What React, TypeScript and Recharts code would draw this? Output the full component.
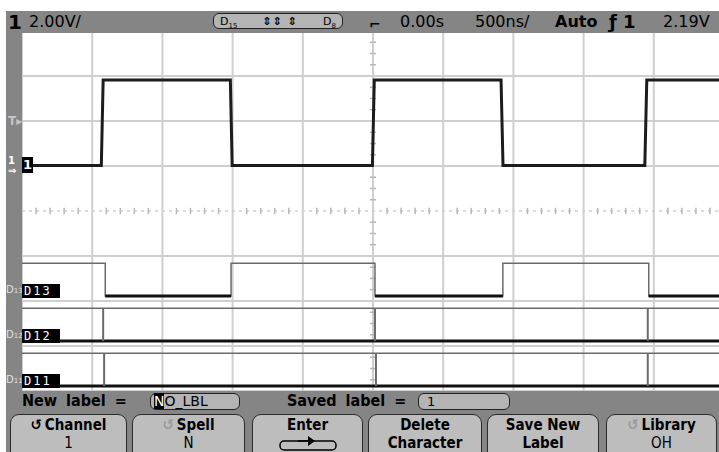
import React from 'react';
import { ComposedChart, Line, XAxis, YAxis, CartesianGrid, ReferenceLine } from 'recharts';

// time axis: 500 ns/div, 10 divisions
const timeTicks = [-2500, -2000, -1500, -1000, -500, 0, 500, 1000, 1500, 2000, 2500];
// channel 1: 2 V/div, ground one div above center
const voltTicks = [-10, -8, -6, -4, 0, 2, 4, 6];
const centerVolt = -2;

// channel 1 analog trace (ns, V)
const ch1Time = [-2500, -1935, -1922, -1016, -1003, -4, 9, 912, 926, 1936, 1950, 2500];
const ch1Volt = [0.02, 0.02, 3.82, 3.82, 0.02, 0.02, 3.82, 3.82, 0.02, 0.02, 3.82, 3.82];

// digital channels: edge times in ns, lane levels in div units
const d13Edges = [-1907, -1011, 14, 925, 1964];
const d13StartHigh = true;
const d12Marks = [-1922, 14, 1957];
const d11Marks = [-1915, 21, 1957];
const laneNames = ['D13', 'D12', 'D11'];
const laneLow = [2.11, 1.11, 0.11];
const laneHigh = [2.84, 1.84, 0.84];

const minorTimes: number[] = [];
for (let t = -2400; t <= 2400; t += 100) if (t % 500 !== 0) minorTimes.push(t);
const minorVolts: number[] = [];
for (let v = -9.5; v <= 5.5; v += 0.5) if (v % 2 !== 0) minorVolts.push(v);

const ch1Data = ch1Time.map((t, i) => ({ t, v: ch1Volt[i] }));

// full D13 waveform (thin) and its low parts (thick)
const d13Full: { t: number; v: number | null }[] = [];
const d13Low: { t: number; v: number | null }[] = [];
{
  let high = d13StartHigh;
  const lvl = (h: boolean) => (h ? laneHigh[0] : laneLow[0]);
  d13Full.push({ t: -2500, v: lvl(high) });
  let lowStart = high ? null : -2500;
  d13Edges.forEach((e) => {
    d13Full.push({ t: e, v: lvl(high) });
    high = !high;
    d13Full.push({ t: e, v: lvl(high) });
    if (!high) lowStart = e;
    else if (lowStart !== null) {
      d13Low.push({ t: lowStart, v: laneLow[0] }, { t: e, v: laneLow[0] }, { t: e, v: null });
      lowStart = null;
    }
  });
  d13Full.push({ t: 2500, v: lvl(high) });
  if (lowStart !== null) d13Low.push({ t: lowStart, v: laneLow[0] }, { t: 2500, v: laneLow[0] });
}

const flat = (v: number) => [{ t: -2500, v }, { t: 2500, v }];

const GRAY = '#858585';
const BTN = '#bdbdbd';

const abs = (s: React.CSSProperties): React.CSSProperties => ({ position: 'absolute', ...s });

const buttons = [
  { left: 10, width: 117, top: 'Channel', bottom: '1', icon: true, iconFaint: false },
  { left: 132, width: 113, top: 'Spell', bottom: 'N', icon: true, iconFaint: true },
  { left: 252, width: 111, top: 'Enter', bottom: '', icon: false, iconFaint: false },
  { left: 368, width: 114, top: 'Delete', bottom: 'Character', icon: false, iconFaint: false },
  { left: 487, width: 112, top: 'Save New', bottom: 'Label', icon: false, iconFaint: false },
  { left: 606, width: 111, top: 'Library', bottom: 'OH', icon: true, iconFaint: true },
];

export default function App() {
  return (
    <div style={abs({ left: 0, top: 0, width: 719, height: 452, overflow: 'hidden', background: '#fff', fontFamily: '"DejaVu Sans", sans-serif' })}>
      <div style={abs({ left: 22, top: 31 })}>
        <ComposedChart width={702} height={360} margin={{ top: 0, right: 0, bottom: 0, left: 0 }}>
          <XAxis dataKey="t" type="number" domain={[-2500, 2500]} ticks={timeTicks} hide allowDataOverflow />
          <YAxis yAxisId="ch1" type="number" domain={[-10, 6]} ticks={voltTicks} hide allowDataOverflow />
          <YAxis yAxisId="dig" type="number" domain={[0, 8]} hide allowDataOverflow />
          <CartesianGrid yAxisId="ch1" stroke="#cfcfcf" strokeWidth={2} />
          <ReferenceLine yAxisId="ch1" y={centerVolt} stroke="#cfcfcf" strokeWidth={1.5} strokeDasharray="3 4" />
          {minorTimes.map((t) => (
            <ReferenceLine key={'mt' + t} yAxisId="ch1" segment={[{ x: t, y: centerVolt - 0.14 }, { x: t, y: centerVolt + 0.14 }]} stroke="#b8b8b8" strokeWidth={1.5} />
          ))}
          {minorVolts.map((v) => (
            <ReferenceLine key={'mv' + v} yAxisId="ch1" segment={[{ x: -22, y: v }, { x: 22, y: v }]} stroke="#b8b8b8" strokeWidth={1.5} />
          ))}

          <Line yAxisId="dig" data={d13Full} dataKey="v" type="linear" stroke="#6a6a6a" strokeWidth={1.5} dot={false} isAnimationActive={false} />
          <Line yAxisId="dig" data={d13Low} dataKey="v" type="linear" stroke="#111" strokeWidth={3} dot={false} connectNulls={false} isAnimationActive={false} />

          <Line yAxisId="dig" data={flat(laneHigh[1])} dataKey="v" stroke="#6a6a6a" strokeWidth={1.5} dot={false} isAnimationActive={false} />
          <Line yAxisId="dig" data={flat(laneLow[1])} dataKey="v" stroke="#111" strokeWidth={3} dot={false} isAnimationActive={false} />
          {d12Marks.map((t) => (
            <ReferenceLine key={'d12' + t} yAxisId="dig" segment={[{ x: t, y: laneLow[1] }, { x: t, y: laneHigh[1] }]} stroke="#6a6a6a" strokeWidth={2} />
          ))}

          <Line yAxisId="dig" data={flat(laneHigh[2])} dataKey="v" stroke="#6a6a6a" strokeWidth={1.5} dot={false} isAnimationActive={false} />
          <Line yAxisId="dig" data={flat(laneLow[2])} dataKey="v" stroke="#111" strokeWidth={3} dot={false} isAnimationActive={false} />
          {d11Marks.map((t) => (
            <ReferenceLine key={'d11' + t} yAxisId="dig" segment={[{ x: t, y: laneLow[2] }, { x: t, y: laneHigh[2] }]} stroke="#6a6a6a" strokeWidth={2} />
          ))}

          <Line yAxisId="ch1" data={ch1Data} dataKey="v" type="linear" stroke="#1c1c1c" strokeWidth={3} dot={false} isAnimationActive={false} />
        </ComposedChart>
      </div>

      {/* top status bar */}
      <div style={abs({ left: 6, top: 11, width: 713, height: 22, background: GRAY })} />
      <div style={abs({ left: 8, top: 11, fontSize: 20, fontWeight: 'bold', lineHeight: '22px' })}>1</div>
      <div style={abs({ left: 29, top: 12, fontSize: 16, lineHeight: '20px' })}>2.00V/</div>
      <div style={abs({ left: 213, top: 13, width: 130, height: 16, border: '1.5px solid #222', borderRadius: 6, background: '#b4b4b4', fontSize: 11, lineHeight: '16px', display: 'flex', justifyContent: 'space-between', padding: '0 6px', boxSizing: 'border-box' })}>
        <span>D<sub style={{ fontSize: 7 }}>15</sub></span>
        <span style={{ fontWeight: 'bold', letterSpacing: 1 }}>⇕⇕ ⇕</span>
        <span>D<sub style={{ fontSize: 7 }}>8</sub></span>
      </div>
      <div style={abs({ left: 369, top: 15, fontSize: 14, fontWeight: 'bold', lineHeight: '18px' })}>⌐</div>
      <div style={abs({ left: 400, top: 12, fontSize: 16, lineHeight: '20px' })}>0.00s</div>
      <div style={abs({ left: 475, top: 12, fontSize: 16, lineHeight: '20px' })}>500ns/</div>
      <div style={abs({ left: 555, top: 12, fontSize: 16, fontWeight: 'bold', lineHeight: '20px' })}>Auto</div>
      <div style={abs({ left: 609, top: 11, fontSize: 18, fontWeight: 'bold', lineHeight: '22px' })}>ƒ 1</div>
      <div style={abs({ left: 663, top: 12, fontSize: 16, lineHeight: '20px' })}>2.19V</div>

      {/* left marker stripe */}
      <div style={abs({ left: 6, top: 33, width: 16, height: 360, background: GRAY })} />
      <div style={abs({ left: 8, top: 114, fontSize: 12, color: '#c4c4c4', fontWeight: 'bold' })}>T▸</div>
      <div style={abs({ left: 8, top: 156, fontSize: 10, color: '#fff', lineHeight: '10px', fontWeight: 'bold' })}>1<br />⇒</div>
      <div style={abs({ left: 22, top: 157, width: 11, height: 16, background: '#000', color: '#fff', fontSize: 13, fontWeight: 'bold', textAlign: 'center', lineHeight: '16px' })}>1</div>

      {laneNames.map((name, i) => (
        <React.Fragment key={name}>
          <div style={abs({ left: 6, top: 284 + i * 45, fontSize: 10, color: '#e0e0e0', lineHeight: '12px' })}>
            D<span style={{ fontSize: 7 }}>{name.slice(1)}</span>
          </div>
          <div style={abs({ left: 22, top: 284 + i * 45, width: 38, height: 14, background: '#000', color: '#fff', fontSize: 12, lineHeight: '14px', fontFamily: '"DejaVu Sans Mono", monospace', letterSpacing: 2, paddingLeft: 2, boxSizing: 'border-box' })}>{name}</div>
        </React.Fragment>
      ))}

      {/* bottom soft-key panel */}
      <div style={abs({ left: 6, top: 391, width: 713, height: 61, background: GRAY })} />
      <div style={abs({ left: 22, top: 391, fontSize: 16, fontWeight: 'bold', lineHeight: '20px', fontFamily: '"DejaVu Sans Condensed", sans-serif', wordSpacing: 4 })}>New label =</div>
      <div style={abs({ left: 150, top: 393, width: 90, height: 17, border: '1.5px solid #222', borderRadius: 6, background: '#b4b4b4', fontSize: 14, lineHeight: '15px', boxSizing: 'border-box', paddingLeft: 3 })}>
        <span style={{ background: '#000', color: '#fff' }}>N</span>O_LBL
      </div>
      <div style={abs({ left: 287, top: 391, fontSize: 16, fontWeight: 'bold', lineHeight: '20px', fontFamily: '"DejaVu Sans Condensed", sans-serif', wordSpacing: 4 })}>Saved label =</div>
      <div style={abs({ left: 418, top: 393, width: 92, height: 17, border: '1.5px solid #222', borderRadius: 6, background: '#b4b4b4', fontSize: 13, lineHeight: '15px', boxSizing: 'border-box', paddingLeft: 8 })}>1</div>

      {buttons.map((b) => (
        <div key={b.top} style={abs({ left: b.left, top: 414, width: b.width, height: 50, border: '1.5px solid #2a2a2a', borderRadius: 9, background: BTN, boxSizing: 'border-box', textAlign: 'center', fontFamily: '"DejaVu Sans Condensed", sans-serif' })}>
          <div style={{ fontSize: 15, fontWeight: 'bold', lineHeight: '19px', marginTop: 1 }}>
            {b.icon && <span style={{ color: b.iconFaint ? '#9a9a9a' : '#000', marginRight: 3 }}>↺</span>}
            {b.top}
          </div>
          {b.bottom ? (
            <div style={{ fontSize: 15, lineHeight: '17px', fontWeight: b.bottom.length > 2 ? 'bold' : 'normal' }}>{b.bottom}</div>
          ) : (
            <svg width={60} height={16} style={{ display: 'block', margin: '0 auto' }}>
              <rect x={2} y={6} width={56} height={9} rx={4} fill="none" stroke="#000" strokeWidth={1.5} />
              <line x1={20} y1={6} x2={36} y2={6} stroke="#000" strokeWidth={1.5} />
              <path d="M30 1 L37 6 L30 11 Z" fill="#000" />
            </svg>
          )}
        </div>
      ))}
    </div>
  );
}
